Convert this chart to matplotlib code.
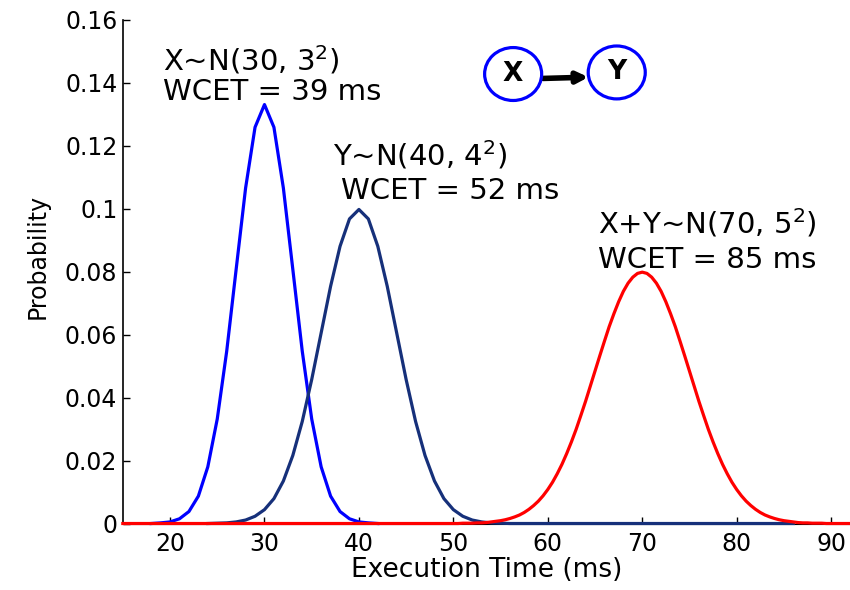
import matplotlib
matplotlib.use('Agg')
import matplotlib.pyplot as plt
from matplotlib.patches import Ellipse

# execution time pdfs (prob per ms)
x_time = list(range(18, 43))
x_prob = [0.0000, 0.0002, 0.0005, 0.0015, 0.0038, 0.0087, 0.0180, 0.0332, 0.0547,
          0.0807, 0.1065, 0.1258, 0.1330, 0.1258, 0.1065, 0.0807, 0.0547, 0.0332,
          0.0180, 0.0087, 0.0038, 0.0015, 0.0005, 0.0002, 0.0000]

y_time = list(range(24, 57)) + [86]
y_prob = [0.0000, 0.0001, 0.0002, 0.0005, 0.0011, 0.0023, 0.0044, 0.0079, 0.0135,
          0.0216, 0.0324, 0.0457, 0.0605, 0.0753, 0.0880, 0.0967, 0.0997, 0.0967,
          0.0880, 0.0753, 0.0605, 0.0457, 0.0324, 0.0216, 0.0135, 0.0079, 0.0044,
          0.0023, 0.0011, 0.0005, 0.0002, 0.0001, 0.0000, 0.0000]

# X+Y is drawn finer (0.5 ms steps) - it looks smooth in the figure
xy_time = [15] + [50 + 0.5 * i for i in range(81)] + [92]
xy_prob = [0.0000,
           0.0000, 0.0000, 0.0001, 0.0001, 0.0001, 0.0002, 0.0002, 0.0003, 0.0005,
           0.0007, 0.0009, 0.0012, 0.0016, 0.0021, 0.0027, 0.0035, 0.0045, 0.0057,
           0.0071, 0.0088, 0.0108, 0.0131, 0.0158, 0.0188, 0.0222, 0.0259, 0.0299,
           0.0343, 0.0388, 0.0436, 0.0484, 0.0532, 0.0579, 0.0625, 0.0666, 0.0704,
           0.0737, 0.0763, 0.0782, 0.0794, 0.0798, 0.0794, 0.0782, 0.0763, 0.0737,
           0.0704, 0.0666, 0.0625, 0.0579, 0.0532, 0.0484, 0.0436, 0.0388, 0.0343,
           0.0299, 0.0259, 0.0222, 0.0188, 0.0158, 0.0131, 0.0108, 0.0088, 0.0071,
           0.0057, 0.0045, 0.0035, 0.0027, 0.0021, 0.0016, 0.0012, 0.0009, 0.0007,
           0.0005, 0.0003, 0.0002, 0.0002, 0.0001, 0.0001, 0.0001, 0.0000, 0.0000,
           0.0000]

x_ticks = [20, 30, 40, 50, 60, 70, 80, 90]
y_ticks = [0, 0.02, 0.04, 0.06, 0.08, 0.1, 0.12, 0.14, 0.16]
y_ticklabels = ['0', '0.02', '0.04', '0.06', '0.08', '0.1', '0.12', '0.14', '0.16']

NAVY = '#16307a'

fig = plt.figure(figsize=(8.5, 5.9), dpi=100)
ax = fig.add_axes([0.1445, 0.1127, 0.8555, 0.8542])

ax.plot(x_time, x_prob, color='#0000ff', lw=2.3, zorder=3, clip_on=False)
ax.plot(y_time, y_prob, color=NAVY, lw=2.3, zorder=3, clip_on=False)
ax.plot(xy_time, xy_prob, color='#ff0000', lw=2.3, zorder=3, clip_on=False)

ax.set_xlim(15, 92)
ax.set_ylim(0, 0.16)
ax.set_xticks(x_ticks)
ax.set_yticks(y_ticks)
ax.set_yticklabels(y_ticklabels)
ax.tick_params(direction='in', length=5, width=1, labelsize=17)
ax.tick_params(axis='x', pad=6)
ax.tick_params(axis='y', pad=4)
for s in ['top', 'right']:
    ax.spines[s].set_visible(False)
ax.spines['left'].set_linewidth(1.2)

ax.set_xlabel('Execution Time (ms)', fontsize=19, labelpad=1)
ax.set_ylabel('Probability', fontsize=17)
ax.yaxis.set_label_coords(-0.10, 0.53)

# distribution labels
txt = dict(fontsize=21, va='baseline', ha='left', color='black')
ax.text(19.3, 0.1437, 'X~N(30, 3$^2$)', **txt)
ax.text(19.3, 0.1344, 'WCET = 39 ms', **txt)
ax.text(37.3, 0.1135, 'Y~N(40, 4$^2$)', **txt)
ax.text(38.1, 0.1030, 'WCET = 52 ms', **txt)
ax.text(65.3, 0.0922, 'X+Y~N(70, 5$^2$)', **txt)
ax.text(65.35, 0.0811, 'WCET = 85 ms', **txt)

# little X -> Y graph
for cx, cy, name in [(56.33, 0.1427, 'X'), (67.30, 0.1432, 'Y')]:
    ax.add_patch(Ellipse((cx, cy), 6.04, 0.0168, fill=False, edgecolor='#0000ff',
                         lw=2.3, clip_on=False, zorder=4))
    ax.text(cx, cy, name, fontsize=19, fontweight='bold', ha='center', va='center',
            zorder=5)
ax.annotate('', xy=(64.3, 0.1417), xytext=(59.5, 0.1413),
            arrowprops=dict(arrowstyle='-|>', lw=4, color='black',
                            mutation_scale=16, shrinkA=0, shrinkB=0))

fig.savefig('out.png', dpi=100)
